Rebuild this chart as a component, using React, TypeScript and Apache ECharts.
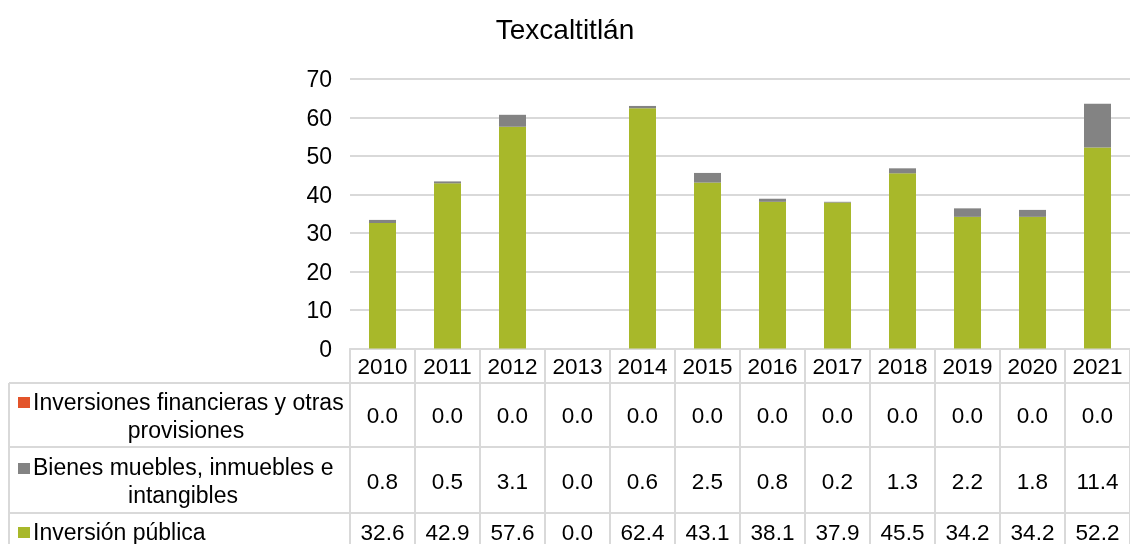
import React, { useEffect, useRef } from "react";
import * as echarts from "echarts";

const years = ["2010", "2011", "2012", "2013", "2014", "2015", "2016", "2017", "2018", "2019", "2020", "2021"];
const inversionesFinancieras = [0, 0, 0, 0, 0, 0, 0, 0, 0, 0, 0, 0];
const bienesMuebles = [0.8, 0.5, 3.1, 0, 0.6, 2.5, 0.8, 0.2, 1.3, 2.2, 1.8, 11.4];
const inversionPublica = [32.6, 42.9, 57.6, 0, 62.4, 43.1, 38.1, 37.9, 45.5, 34.2, 34.2, 52.2];
const yTicks = [0, 10, 20, 30, 40, 50, 60, 70];

const FONT = "'Liberation Sans', Arial, sans-serif";
const GRID_LEFT = 350;
const GRID_RIGHT_X = 1132;
const GRID_TOP = 79;
const AXIS_Y = 349;
const LINE = "#d9d9d9";
const GREEN = "#a8b82a";
const GRAY = "#838383";
const RED = "#e3542a";
const TABLE_FS = 22.5;
const LEGEND_FS = 23;

export default function App() {
  const ref = useRef<HTMLDivElement>(null);
  useEffect(() => {
    if (!ref.current) return;
    const chart = echarts.init(ref.current, null, { renderer: "svg" });
    const fmt = (arr: number[]) => (_v: string, i: number) => arr[i].toFixed(1);
    const rowAxis = (offset: number, tickLen: number, margin: number, arr: number[] | null) => ({
      type: "category",
      data: years,
      position: "bottom",
      offset,
      gridIndex: 0,
      boundaryGap: true,
      axisLine: { show: false },
      axisTick: { show: true, length: tickLen, lineStyle: { color: LINE, width: 2 } },
      axisLabel: {
        show: true,
        interval: 0,
        margin,
        color: "#000",
        fontSize: TABLE_FS,
        lineHeight: 22,
        fontFamily: FONT,
        formatter: arr ? fmt(arr) : undefined,
      },
      splitLine: { show: false },
    });
    const hLine = (y: number) => ({
      type: "line",
      shape: { x1: 9, y1: y, x2: GRID_RIGHT_X, y2: y },
      style: { stroke: LINE, lineWidth: 2 },
      silent: true,
    });
    const legendText = (text: string, x: number, y: number, align: string) => ({
      type: "text",
      x,
      y,
      style: { text, fill: "#000", fontSize: LEGEND_FS, fontFamily: FONT, align, verticalAlign: "middle" },
      silent: true,
    });
    const marker = (y: number, color: string) => ({
      type: "rect",
      shape: { x: 18, y, width: 12, height: 11 },
      style: { fill: color },
      silent: true,
    });
    chart.setOption({
      animation: false,
      title: {
        text: "Texcaltitlán",
        left: "center",
        top: 10,
        textStyle: { fontSize: 28, fontWeight: "normal", color: "#000", fontFamily: FONT },
      },
      grid: { left: GRID_LEFT, right: 1130 - GRID_RIGHT_X, top: GRID_TOP, bottom: 544 - AXIS_Y, containLabel: false },
      xAxis: [
        {
          type: "category",
          data: years,
          position: "bottom",
          boundaryGap: true,
          axisLine: { show: true, lineStyle: { color: LINE, width: 2 } },
          axisTick: { show: true, length: 34, lineStyle: { color: LINE, width: 2 } },
          axisLabel: { interval: 0, margin: 7, color: "#000", fontSize: TABLE_FS, lineHeight: 22, fontFamily: FONT },
        },
        rowAxis(34, 64, 22, inversionesFinancieras),
        rowAxis(98, 66, 24, bienesMuebles),
        rowAxis(164, 40, 9, inversionPublica),
      ],
      yAxis: {
        type: "value",
        min: yTicks[0],
        max: yTicks[yTicks.length - 1],
        interval: 10,
        axisLine: { show: false },
        axisTick: { show: false },
        axisLabel: { margin: 18, color: "#000", fontSize: 23, fontFamily: FONT },
        splitLine: { show: true, lineStyle: { color: LINE, width: 2 } },
      },
      series: [
        { name: "Inversión pública", type: "bar", stack: "total", data: inversionPublica, barWidth: 27, itemStyle: { color: GREEN } },
        { name: "Bienes muebles, inmuebles e intangibles", type: "bar", stack: "total", data: bienesMuebles, barWidth: 27, itemStyle: { color: GRAY } },
        { name: "Inversiones financieras y otras provisiones", type: "bar", stack: "total", data: inversionesFinancieras, barWidth: 27, itemStyle: { color: RED } },
      ],
      graphic: [
        hLine(383),
        hLine(447),
        hLine(513),
        {
          type: "line",
          shape: { x1: 9, y1: 383, x2: 9, y2: 544 },
          style: { stroke: LINE, lineWidth: 2 },
          silent: true,
        },
        marker(397, RED),
        legendText("Inversiones financieras y otras", 33, 402, "left"),
        legendText("provisiones", 186, 430, "center"),
        marker(463, GRAY),
        legendText("Bienes muebles, inmuebles e", 33, 467, "left"),
        legendText("intangibles", 183, 495, "center"),
        marker(527, GREEN),
        legendText("Inversión pública", 33, 532, "left"),
      ],
    });
    return () => chart.dispose();
  }, []);
  return <div ref={ref} style={{ position: "fixed", left: 0, top: 0, width: 1130, height: 544 }} />;
}
